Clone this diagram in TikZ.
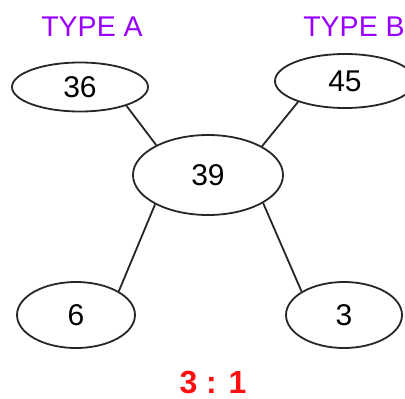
\documentclass[tikz,border=0pt]{standalone}
\usepackage{fontspec}
\setmainfont{Liberation Sans}
\usetikzlibrary{shapes.geometric}
\definecolor{typepurple}{HTML}{9A00FF}
\definecolor{ratiored}{HTML}{FF1010}
\begin{document}
\begin{tikzpicture}[x=1pt,y=-1pt,
  oval/.style={ellipse,draw=black!85,line width=1.8pt,inner sep=0pt,
    font=\fontsize{30}{34}\selectfont},
  link/.style={draw=black!85,line width=1.8pt},
  typelabel/.style={anchor=base,inner sep=0pt,text=typepurple,
    font=\fontsize{28.5}{32}\selectfont},
  ratio/.style={anchor=base,inner sep=0pt,text=ratiored,
    font=\bfseries\fontsize{32}{38}\selectfont}]
\useasboundingbox (0,0) rectangle (405,399);
\node[typelabel] (ta) at (92,36) {TYPE A};
\node[typelabel] (tb) at (354,36) {TYPE B};
\node[oval,minimum width=136pt,minimum height=49pt] (n36) at (80,87) {36};
\node[oval,minimum width=140pt,minimum height=54pt] (n45) at (345,81) {45};
\node[oval,minimum width=150pt,minimum height=80pt] (n39) at (208,175) {39};
\node[oval,minimum width=118pt,minimum height=66pt] (n6) at (76,315) {6};
\node[oval,minimum width=116pt,minimum height=66pt] (n3) at (344,315) {3};
\node[ratio] (r) at (213,393) {3 : 1};
\draw[link] (n36.-22) -- (n39.150);
\draw[link] (n45.-156) -- (n39.28);
\draw[link] (n39.-151) -- (n6.29);
\draw[link] (n39.-27) -- (n3.151);
\end{tikzpicture}
\end{document}
